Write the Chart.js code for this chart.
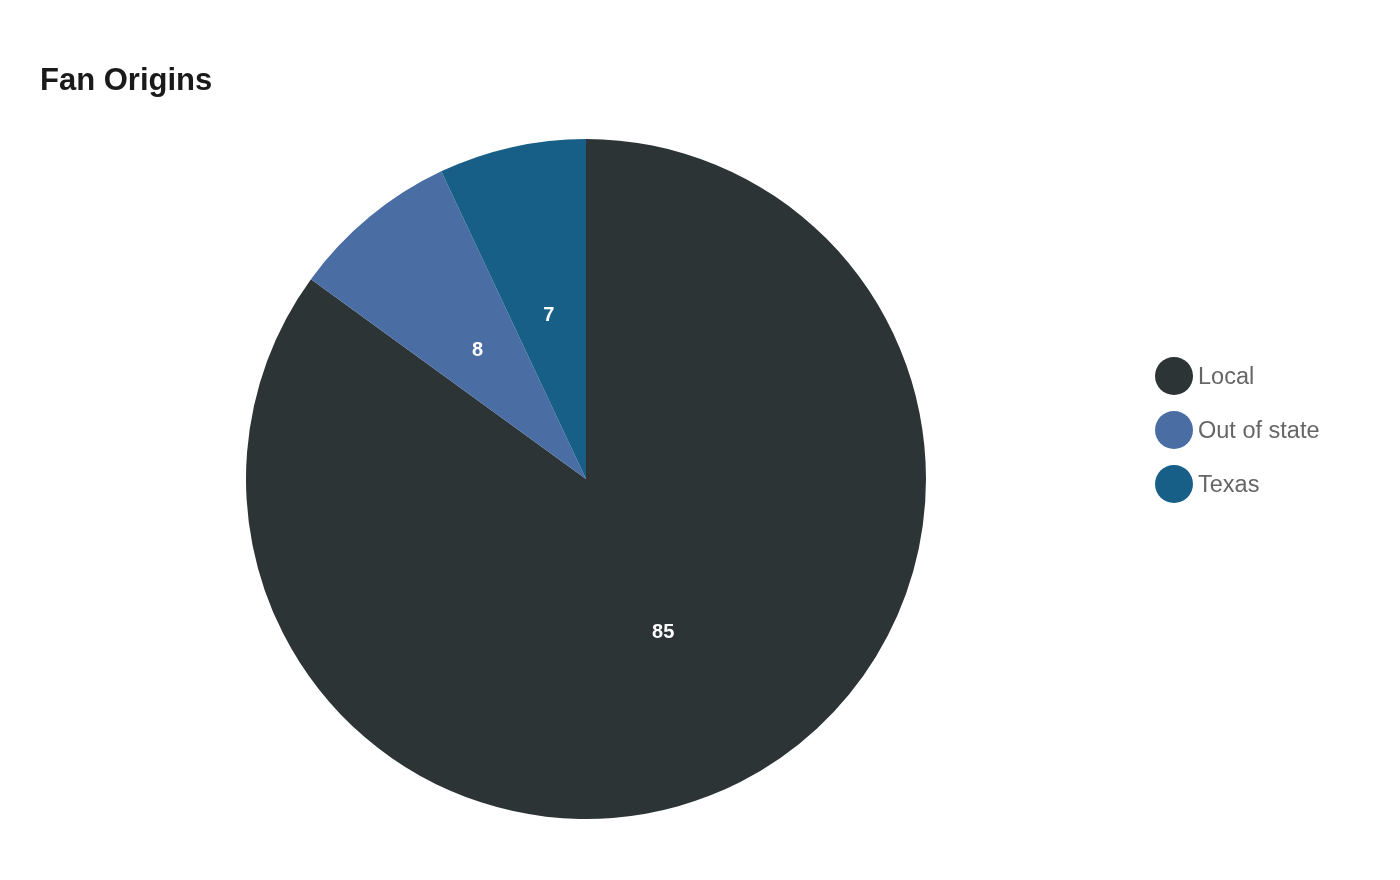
<!DOCTYPE html>
<html>
<head>
<meta charset="utf-8">
<title>Fan Origins</title>
<script src="https://cdn.jsdelivr.net/npm/chart.js@4"></script>
<style>
  html, body { margin: 0; padding: 0; background: #ffffff; }
  #wrap { position: relative; width: 1400px; height: 880px; }
  #legend {
    position: absolute; left: 1155px; top: 357px;
    font-family: "Liberation Sans", Arial, sans-serif; font-size: 23.5px; color: #666666;
  }
  .item { display: flex; align-items: center; height: 38px; margin-bottom: 16px; }
  .dot { width: 38px; height: 38px; border-radius: 50%; margin-right: 5px; }
</style>
</head>
<body>
<div id="wrap">
  <canvas id="pie" width="1400" height="880"></canvas>
  <div id="legend"></div>
</div>
<script>
// Fan origins, share of fans (percent).
const labels = ["Local", "Out of state", "Texas"];
const values = [85, 8, 7];
const colors = ["#2d3436", "#4a6ea4", "#175f87"];

// Write each slice's value in the middle of the slice.
const sliceLabels = {
  id: "sliceLabels",
  afterDatasetsDraw(chart) {
    const ctx = chart.ctx;
    const meta = chart.getDatasetMeta(0);
    ctx.save();
    ctx.fillStyle = "#ffffff";
    ctx.font = "bold 20px 'Liberation Sans', Arial, sans-serif";
    ctx.textAlign = "center";
    ctx.textBaseline = "middle";
    meta.data.forEach((arc, i) => {
      const p = arc.getCenterPoint();
      ctx.fillText(String(values[i]), p.x, p.y + 2);
    });
    ctx.restore();
  }
};

new Chart(document.getElementById("pie"), {
  type: "pie",
  data: {
    labels,
    datasets: [{ data: values, backgroundColor: colors, borderWidth: 0 }]
  },
  options: {
    responsive: false,
    animation: false,
    layout: { padding: { top: 40, bottom: 61, left: 40, right: 268 } },
    plugins: {
      legend: { display: false },
      tooltip: { enabled: false },
      title: {
        display: true,
        text: "Fan Origins",
        align: "start",
        color: "#1a1a1a",
        font: { family: "'Liberation Sans', Arial, sans-serif", size: 31, weight: "bold" },
        padding: { top: 23, bottom: 38.8 }
      }
    }
  },
  plugins: [sliceLabels]
});

// Legend drawn as html so the round markers can be larger than the text.
const legend = document.getElementById("legend");
labels.forEach((name, i) => {
  const item = document.createElement("div");
  item.className = "item";
  const dot = document.createElement("span");
  dot.className = "dot";
  dot.style.background = colors[i];
  const text = document.createElement("span");
  text.textContent = name;
  item.appendChild(dot);
  item.appendChild(text);
  legend.appendChild(item);
});
</script>
</body>
</html>
